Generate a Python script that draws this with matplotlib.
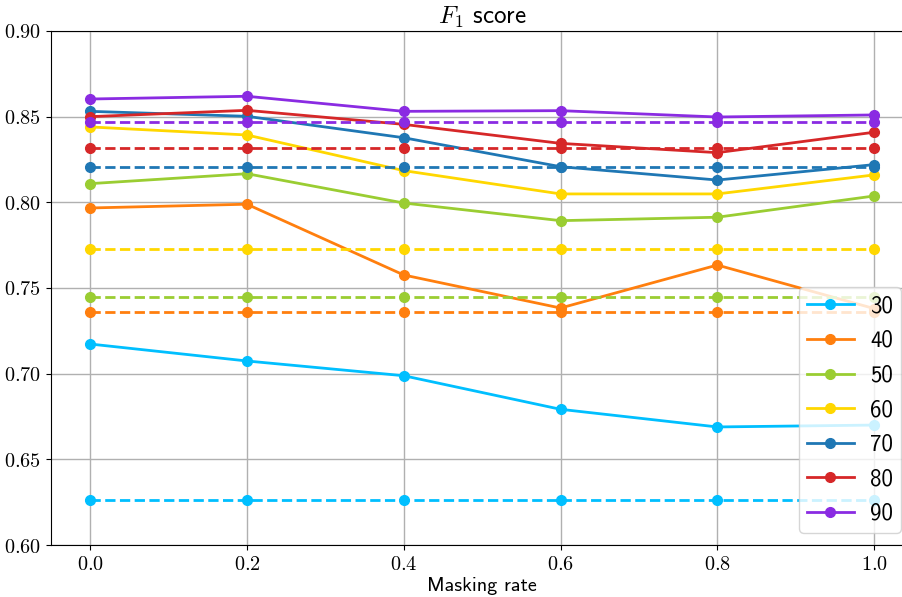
import matplotlib
matplotlib.use("Agg")
import matplotlib.pyplot as plt

plt.rcParams["mathtext.fontset"] = "cm"

rates = [0.0, 0.2, 0.4, 0.6, 0.8, 1.0]
settings = ["30", "40", "50", "60", "70", "80", "90"]
colors = ["#00bfff", "#ff7f0e", "#9acd32", "#ffd700", "#1f77b4", "#d62728", "#8a2be2"]

# solid lines: score vs masking rate
f1_30 = [0.7173, 0.7074, 0.6988, 0.6792, 0.6689, 0.6700]
f1_40 = [0.7967, 0.7989, 0.7576, 0.7383, 0.7634, 0.7380]
f1_50 = [0.8109, 0.8167, 0.7996, 0.7893, 0.7913, 0.8037]
f1_60 = [0.8440, 0.8393, 0.8185, 0.8049, 0.8049, 0.8160]
f1_70 = [0.8531, 0.8502, 0.8377, 0.8208, 0.8130, 0.8220]
f1_80 = [0.8500, 0.8537, 0.8455, 0.8344, 0.8290, 0.8409]
f1_90 = [0.8603, 0.8619, 0.8531, 0.8535, 0.8498, 0.8510]
scores = [f1_30, f1_40, f1_50, f1_60, f1_70, f1_80, f1_90]

# dashed lines: baseline per setting
baselines = [0.6263, 0.7362, 0.7447, 0.7728, 0.8206, 0.8317, 0.8467]

fig = plt.figure(figsize=(9.02, 5.97), dpi=100)
ax = fig.add_axes([0.0565, 0.0871, 0.956, 0.861])

for name, c, s, b in zip(settings, colors, scores, baselines):
    ax.plot(rates, s, color=c, marker="o", lw=2, ms=7, label=name)
    ax.plot(rates, [b] * len(rates), color=c, marker="o", lw=2, ms=7, ls="--")

ax.set_xlim(-0.05, 1.05)
ax.set_ylim(0.60, 0.90)
xt = [0.0, 0.2, 0.4, 0.6, 0.8, 1.0]
yt = [0.60, 0.65, 0.70, 0.75, 0.80, 0.85, 0.90]
ax.set_xticks(xt)
ax.set_xticklabels(["$%.1f$" % v for v in xt], fontsize=14.6)
ax.set_yticks(yt)
ax.set_yticklabels(["$%.2f$" % v for v in yt], fontsize=14.6)
ax.tick_params(axis="x", pad=4)
ax.grid(True, color="#b0b0b0", lw=1)
ax.set_axisbelow(True)

ax.set_title(r"$F_1$ score", fontsize=18, pad=5, fontfamily="cmss10")
ax.set_xlabel("Masking rate", fontsize=14.5, labelpad=2, fontfamily="cmss10")

ax.legend(loc="lower right", bbox_to_anchor=(901 / 902, 1 - 533 / 597),
          bbox_transform=fig.transFigure, borderaxespad=0,
          prop={"family": "cmss10", "size": 16.5}, labelspacing=0.55,
          handlelength=2.05, handletextpad=0.7, borderpad=0.35)

fig.savefig("out.png", dpi=100)
